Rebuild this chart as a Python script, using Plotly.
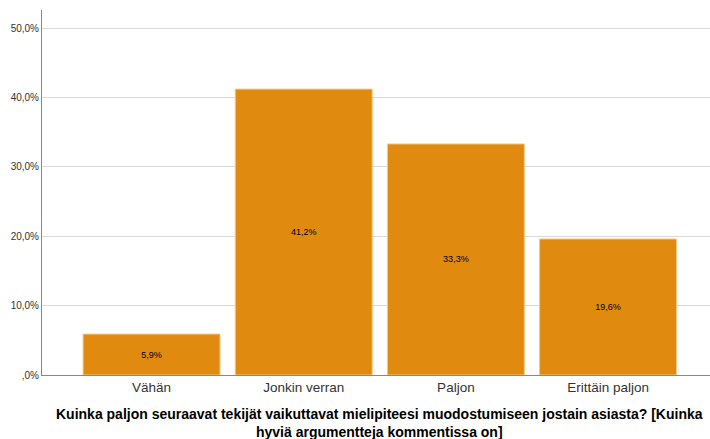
import plotly.graph_objects as go

categories = ["Vähän", "Jonkin verran", "Paljon", "Erittäin paljon"]
values = [5.9, 41.2, 33.3, 19.6]
labels = ["5,9%", "41,2%", "33,3%", "19,6%"]
y_ticks = [0, 10, 20, 30, 40, 50]
y_ticktext = [",0%", "10,0%", "20,0%", "30,0%", "40,0%", "50,0%"]
title = ("Kuinka paljon seuraavat tekijät vaikuttavat mielipiteesi muodostumiseen jostain asiasta? [Kuinka<br>"
         "hyviä argumentteja kommentissa on]")

fig = go.Figure(go.Bar(
    x=list(range(len(categories))), y=values, text=labels,
    textposition="inside", insidetextanchor="middle",
    textfont=dict(size=9, color="#000000", family="Liberation Sans"),
    marker=dict(color="#e08a10", line=dict(color="#f3c98a", width=1)),
    width=0.9, cliponaxis=False,
))

fig.update_layout(
    width=710, height=439,
    margin=dict(l=42, r=0, t=10, b=64),
    plot_bgcolor="white", paper_bgcolor="white",
    showlegend=False,
    font=dict(family="Liberation Sans", color="#333333"),
    uniformtext=dict(minsize=9, mode="show"),
    xaxis=dict(
        range=[-0.72, 3.67], tickvals=list(range(len(categories))), ticktext=categories,
        showgrid=False, showline=True, linecolor="#888888", linewidth=1,
        ticks="", tickfont=dict(size=13.5, color="#333333"), zeroline=False,
    ),
    yaxis=dict(
        range=[0, 52.6], tickvals=y_ticks, ticktext=y_ticktext,
        showgrid=True, gridcolor="#d9d9d9", gridwidth=1,
        showline=True, linecolor="#888888", linewidth=1,
        ticks="", tickfont=dict(size=10, color="#333333"), zeroline=False,
    ),
    annotations=[dict(
        text="<b>" + title.replace("<br>", "</b><br><b>") + "</b>",
        xref="paper", yref="paper", x=0.505, y=-0.182, xanchor="center", yanchor="bottom",
        showarrow=False, align="center", borderpad=0,
        font=dict(size=14, color="#000000", family="Liberation Sans"),
    )],
)

fig.write_html("out.html")
